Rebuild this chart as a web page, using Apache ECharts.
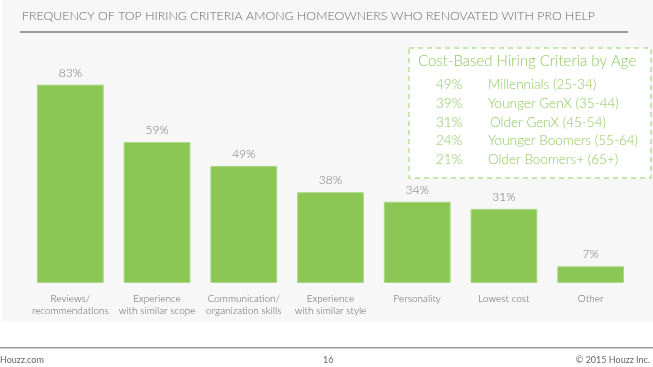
<!DOCTYPE html>
<html><head><meta charset="utf-8">
<script src="https://cdn.jsdelivr.net/npm/echarts@6/dist/echarts.min.js"></script>
<style>html,body{margin:0;padding:0;background:#fff}#c{width:653px;height:367px}</style>
</head><body><div id="c"></div>
<script>
const categories = ['Reviews/\nrecommendations','Experience\nwith similar scope','Communication/\norganization skills','Experience\nwith similar style','Personality','Lowest cost','Other'];
const values = [83, 59, 49, 38, 34, 31, 7];
const insetPercents = ['49%','39%','31%','24%','21%'];
const insetLabels = ['Millennials (25-34)','Younger GenX (35-44)','Older GenX (45-54)','Younger Boomers (55-64)','Older Boomers+ (65+)'];
const titleText = 'FREQUENCY OF TOP HIRING CRITERIA AMONG HOMEOWNERS WHO RENOVATED WITH PRO HELP';
const insetTitle = 'Cost-Based Hiring Criteria by Age';

const chart = echarts.init(document.getElementById('c'), null, {renderer:'canvas'});
const FONT = 'Lato, "Open Sans", sans-serif';
const green = '#8cc756';
const insetGreen = '#8fca5e';
const graphics = [
  {type:'rect', z:-10, shape:{x:2,y:0,width:651,height:322}, style:{fill:'#f7f7f7'}},
  {type:'text', left:22, top:10, style:{text:titleText, fill:'#6a6a6a', font:'300 12.4px '+FONT}},
  {type:'rect', shape:{x:20,y:31,width:608,height:2}, style:{fill:'#9a9a9a'}},
  {type:'rect', shape:{x:409,y:48,width:242,height:130}, style:{fill:'#fff', stroke:'#b8e09a', lineWidth:1.5, lineDash:[5,4]}},
  {type:'text', left:418, top:54, style:{text:insetTitle, fill:insetGreen, font:'300 15px '+FONT}},
  {type:'rect', shape:{x:0,y:347,width:653,height:1.5}, style:{fill:'#999'}},
  {type:'text', left:0, top:356, style:{text:'Houzz.com', fill:'#666', font:'9px '+FONT}},
  {type:'text', left:323, top:356, style:{text:'16', fill:'#666', font:'9px '+FONT}},
  {type:'text', right:3, top:356, style:{text:'© 2015 Houzz Inc.', fill:'#666', font:'9px '+FONT}}
];
insetPercents.forEach((p,i)=>{
  graphics.push({type:'text', left:436, top:78+i*18.6, style:{text:p, fill:insetGreen, font:'300 13.5px '+FONT}});
  graphics.push({type:'text', left:i===2?490:488, top:78+i*18.6, style:{text:insetLabels[i], fill:insetGreen, font:'300 13.5px '+FONT}});
});

chart.setOption({
  animation:false,
  backgroundColor:'#fff',
  grid:{left:27, right:19, top:44, bottom:84},
  xAxis:{type:'category', data:categories, axisLine:{show:false}, axisTick:{show:false},
    axisLabel:{color:'#666', fontSize:10, fontWeight:300, fontFamily:FONT, lineHeight:12, margin:10, interval:0}},
  yAxis:{type:'value', min:0, max:100, show:false, splitLine:{show:false}},
  series:[{type:'bar', data:values, barCategoryGap:'23%',
    itemStyle:{color:green, borderColor:'#a8d882', borderWidth:1},
    label:{show:true, position:'top', distance:6, formatter:'{c}%', color:'#777', fontSize:12, fontWeight:300, fontFamily:FONT}}],
  graphic:graphics
});
</script></body></html>
